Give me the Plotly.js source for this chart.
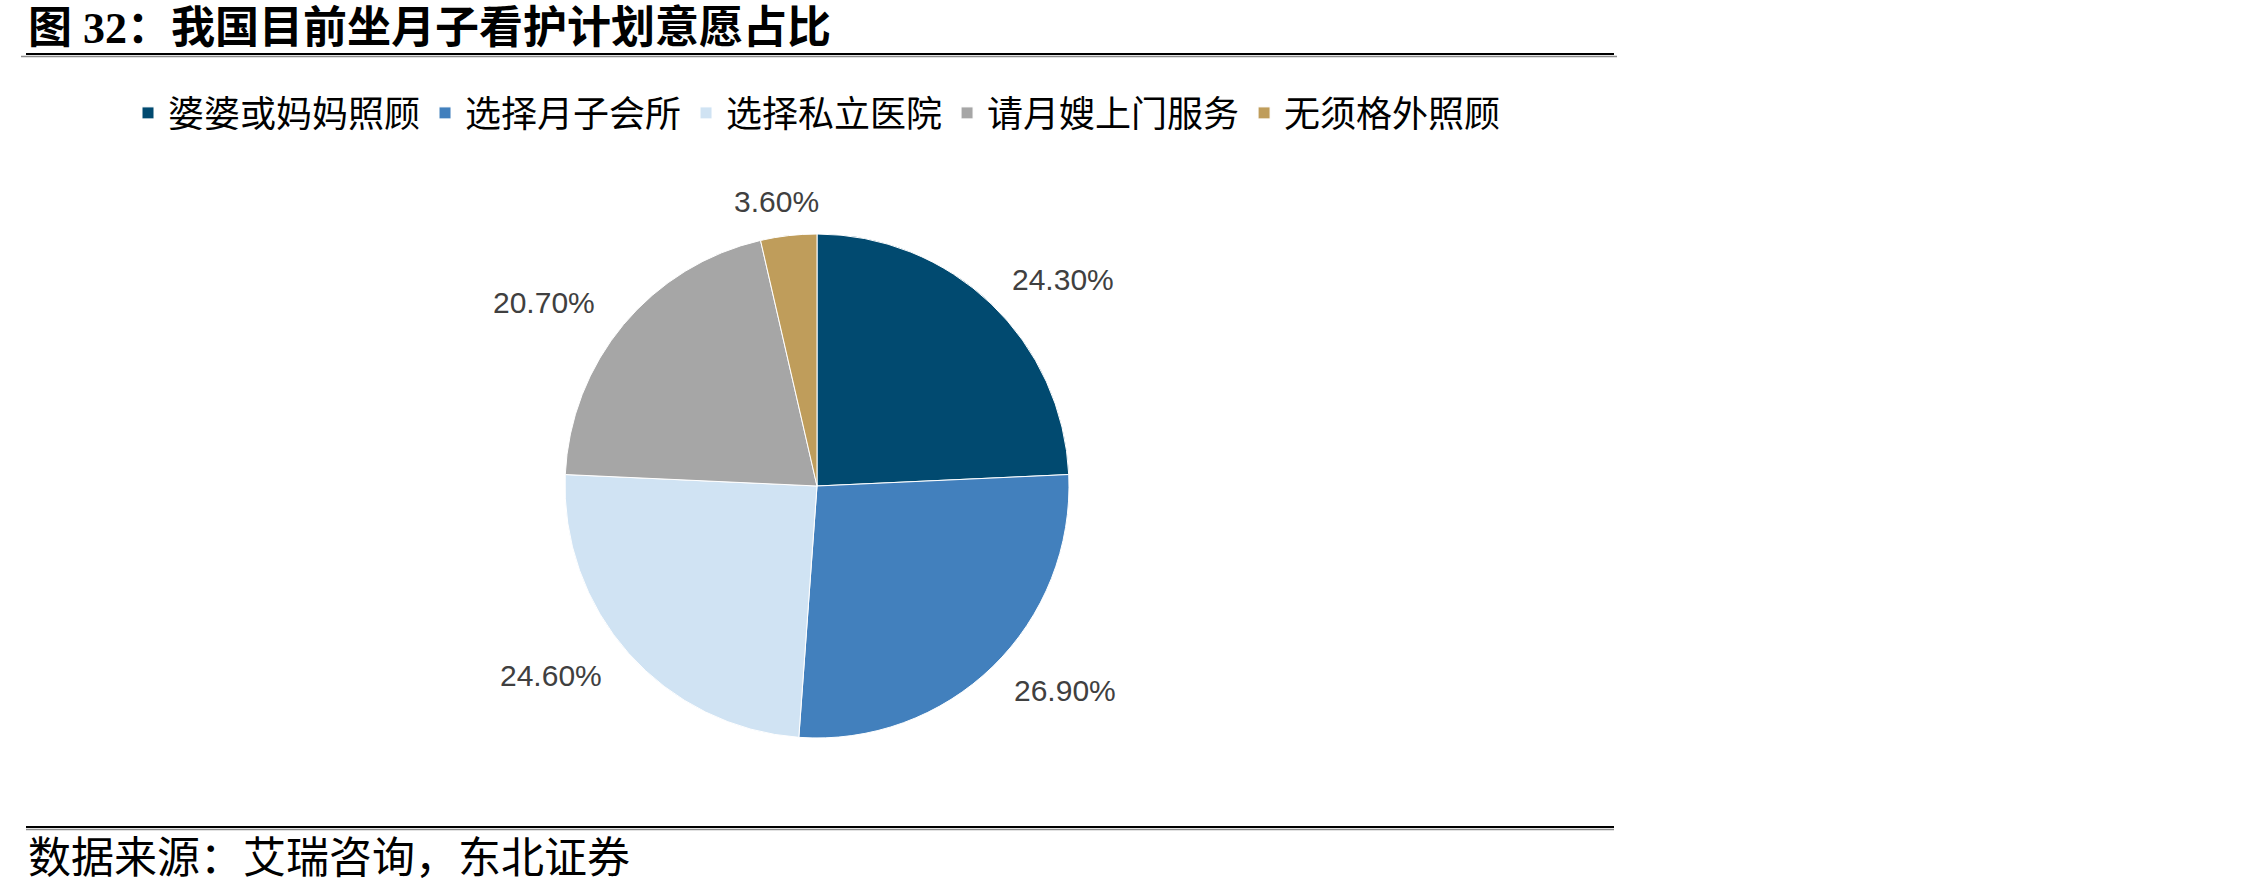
<!DOCTYPE html>
<html>
<head>
<meta charset="utf-8">
<script src="https://cdn.plot.ly/plotly-3.0.1.min.js"></script>
<style>html,body{margin:0;padding:0;background:#fff;}#chart{width:2268px;height:893px;}</style>
</head>
<body>
<div id="chart"></div>
<script>
const categories = ['婆婆或妈妈照顾', '选择月子会所', '选择私立医院', '请月嫂上门服务', '无须格外照顾'];
const shares = [24.3, 26.9, 24.6, 20.7, 3.6];
const colors = ['#014A70', '#4280BD', '#D0E3F3', '#A6A6A6', '#BF9D5B'];
const titleText = '图 32：我国目前坐月子看护计划意愿占比';
const sourceText = '数据来源：艾瑞咨询，东北证券';

const W = 2268, H = 893;
const cx = 817, cy = 486, r = 252;

const trace = {
  type: 'pie',
  labels: categories,
  values: shares,
  sort: false,
  direction: 'clockwise',
  rotation: 0,
  marker: {colors: colors, line: {color: '#ffffff', width: 1}},
  textinfo: 'none',
  hoverinfo: 'none',
  domain: {x: [(cx - r) / W, (cx + r) / W], y: [(H - cy - r) / H, (H - cy + r) / H]},
  automargin: false
};

// data labels placed outside each slice, at the slice's mid-angle (Excel-style gap)
const total = shares.reduce((a, b) => a + b, 0);
const gap = 24, hw = 80, hh = 10;
let cum = 0;
const labelAnns = shares.map((v) => {
  const mid = (cum + v / 2) / total * 2 * Math.PI;
  cum += v;
  const s = Math.sin(mid), c = Math.cos(mid);
  const px = cx + (r + gap) * s + hw * s;
  const py = cy - (r + gap) * c - hh * c;
  return {
    xref: 'paper', yref: 'paper', x: px / W, y: 1 - py / H,
    xanchor: 'center', yanchor: 'middle', showarrow: false,
    text: v.toFixed(2) + '%',
    font: {family: 'Liberation Sans, Arial, sans-serif', size: 30, color: '#404040'}
  };
});

const layout = {
  width: W, height: H,
  margin: {l: 0, r: 0, t: 0, b: 0},
  paper_bgcolor: '#ffffff',
  showlegend: true,
  legend: {
    orientation: 'h', x: cx / W, xanchor: 'center', y: 1 - 113 / H, yanchor: 'middle',
    font: {family: 'Liberation Serif, Noto Sans CJK SC, serif', size: 36, color: '#000000'},
    traceorder: 'normal'
  },
  annotations: [
    {xref: 'paper', yref: 'paper', x: 26 / W, y: 1 - 29 / H, xanchor: 'left', yanchor: 'middle',
     text: '<b>' + titleText + '</b>', showarrow: false,
     font: {family: 'Liberation Serif, Noto Sans CJK SC, serif', size: 44, color: '#000000'}},
    {xref: 'paper', yref: 'paper', x: 26 / W, y: 1 - 858 / H, xanchor: 'left', yanchor: 'middle',
     text: sourceText, showarrow: false,
     font: {family: 'Liberation Serif, Noto Sans CJK SC, serif', size: 43, color: '#000000'}}
  ].concat(labelAnns),
  shapes: [
    {type: 'line', xref: 'paper', yref: 'paper', x0: 26 / W, x1: 1614 / W, y0: 1 - 54 / H, y1: 1 - 54 / H, line: {color: '#000000', width: 2}},
    {type: 'line', xref: 'paper', yref: 'paper', x0: 21 / W, x1: 1617 / W, y0: 1 - 56.5 / H, y1: 1 - 56.5 / H, line: {color: '#8c8c8c', width: 1.5}},
    {type: 'line', xref: 'paper', yref: 'paper', x0: 26 / W, x1: 1614 / W, y0: 1 - 827 / H, y1: 1 - 827 / H, line: {color: '#000000', width: 2}},
    {type: 'line', xref: 'paper', yref: 'paper', x0: 26 / W, x1: 1614 / W, y0: 1 - 829.5 / H, y1: 1 - 829.5 / H, line: {color: '#8c8c8c', width: 1.5}}
  ]
};

Plotly.newPlot('chart', [trace], layout, {displayModeBar: false, staticPlot: true});
</script>
</body>
</html>
